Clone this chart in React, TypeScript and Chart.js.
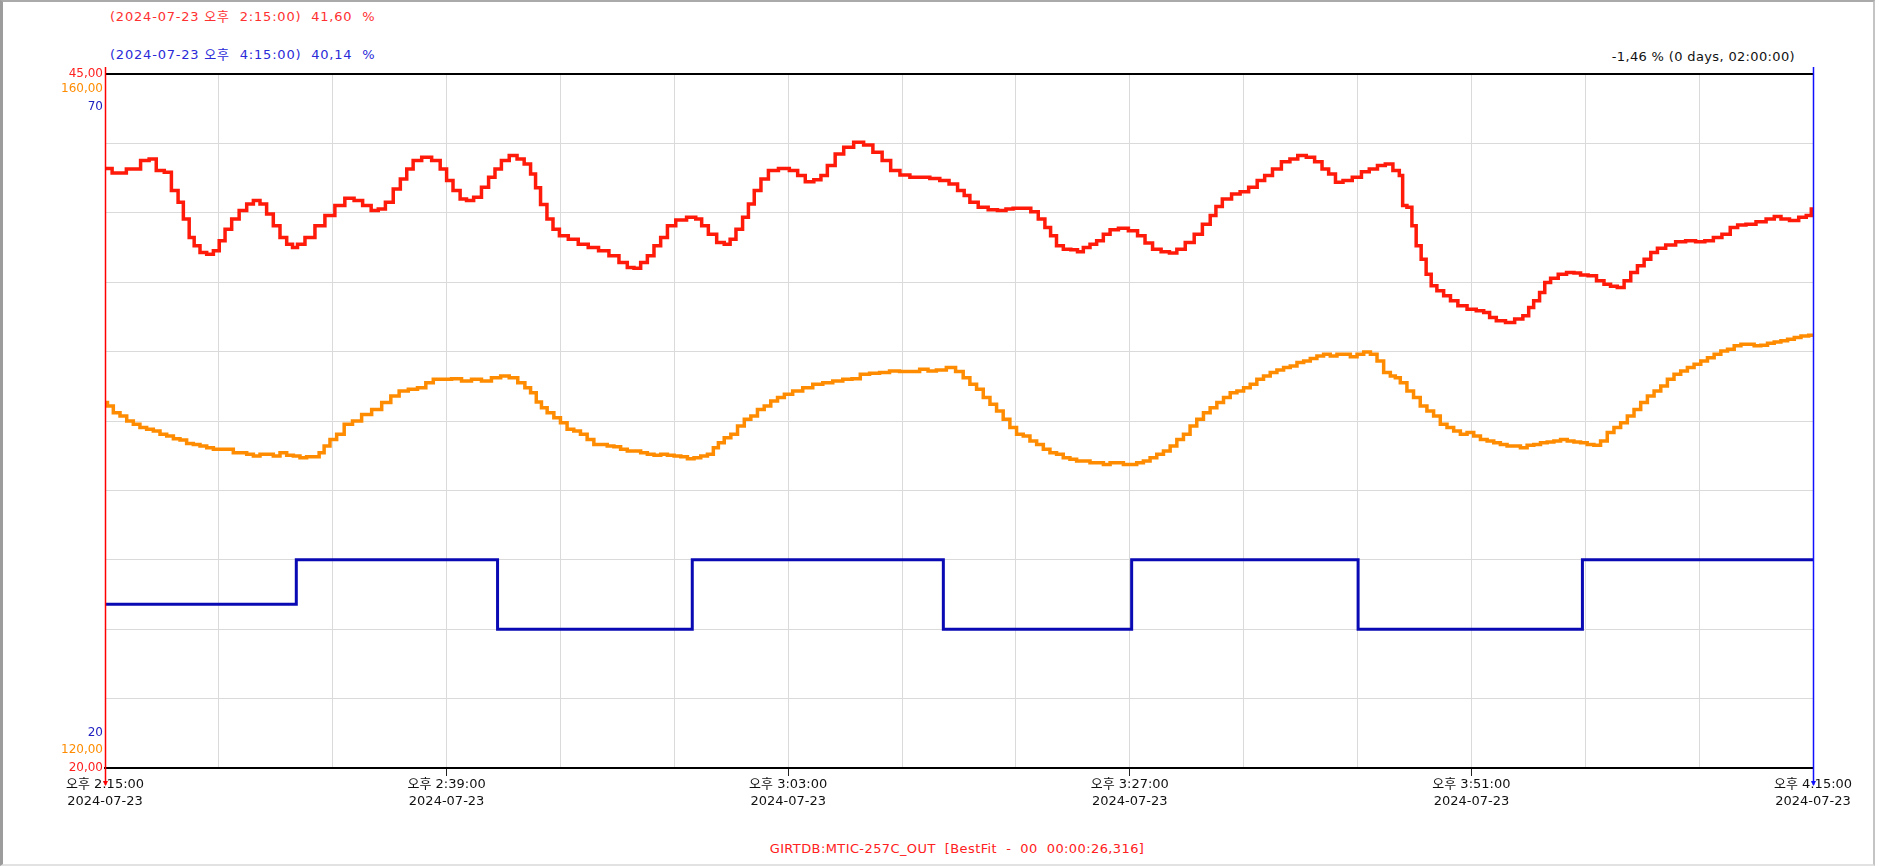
import React, { useEffect, useRef } from 'react';
import { Chart, registerables } from 'chart.js';

Chart.register(...registerables);

const FONT = '"DejaVu Sans", "Noto Sans CJK KR", sans-serif';

// x axis: minutes after 2024-07-23 오후 2:15:00
const xTickMinutes = [0, 24, 48, 72, 96, 120];
const xTickTimes = ['오후 2:15:00', '오후 2:39:00', '오후 3:03:00', '오후 3:27:00', '오후 3:51:00', '오후 4:15:00'];
const xTickDate = '2024-07-23';

const redRange = [20, 45];
const orangeRange = [120, 160];
const blueRange = [20, 70];
const redLabels = ['45,00', '20,00'];
const orangeLabels = ['160,00', '120,00'];
const blueLabels = ['70', '20'];

const headerStart = '(2024-07-23 오후  2:15:00)  41,60  %';
const headerEnd = '(2024-07-23 오후  4:15:00)  40,14  %';
const headerDiff = '-1,46 % (0 days, 02:00:00)';
const footerText = 'GIRTDB:MTIC-257C_OUT  [BestFit  -  00  00:00:26,316]';

const cursorStart = 0;
const cursorEnd = 120;

// [minute, value]
const redPoints: [number, number][] = [
  [0, 41.6], [1, 41.43], [2, 41.58], [3, 41.88], [3.2, 41.94], [4, 41.52], [4.33, 41.46], [5, 40.8], [5.27, 40.38],
  [5.74, 39.78], [6.09, 39.11], [6.44, 38.81], [6.91, 38.57], [7.38, 38.51], [7.85, 38.63], [8.2, 38.99], [8.67, 39.41],
  [9.13, 39.78], [9.72, 40.08], [10.19, 40.32], [10.66, 40.44], [11.12, 40.32], [11.59, 39.96], [12.06, 39.53],
  [12.53, 39.11], [13, 38.87], [13.35, 38.75], [13.7, 38.87], [14.4, 39.11], [15.1, 39.53], [15.8, 39.9], [16.5, 40.26],
  [17.2, 40.52], [17.8, 40.44], [18.4, 40.26], [19, 40.08], [19.4, 40.14], [20, 40.38], [20.5, 40.86], [21, 41.22],
  [21.4, 41.58], [21.9, 41.88], [22.6, 42.0], [23.3, 41.88], [23.8, 41.58], [24.2, 41.16], [24.7, 40.8], [25.2, 40.5],
  [25.6, 40.44], [26.2, 40.56], [26.7, 40.92], [27.2, 41.28], [27.6, 41.58], [28.1, 41.88], [28.7, 42.06], [29.2, 41.94],
  [29.7, 41.76], [30.1, 41.4], [30.4, 40.9], [30.8, 40.3], [31.3, 39.78], [31.65, 39.41], [32.2, 39.17], [32.9, 39.05],
  [33.6, 38.87], [34.3, 38.75], [35.05, 38.63], [35.76, 38.45], [36.46, 38.21], [36.93, 38.03], [37.4, 38.0],
  [37.87, 38.21], [38.34, 38.45], [38.8, 38.81], [39.28, 39.11], [39.75, 39.53], [40.45, 39.74], [41.27, 39.84],
  [41.74, 39.78], [42.1, 39.53], [42.68, 39.23], [43.27, 38.93], [43.74, 38.87], [44.1, 39.05], [44.56, 39.41],
  [45.03, 39.84], [45.38, 40.32], [45.85, 40.8], [46.32, 41.22], [46.9, 41.52], [47.73, 41.6], [48.43, 41.52],
  [48.9, 41.34], [49.5, 41.12], [50.1, 41.19], [50.5, 41.34], [51, 41.7], [51.6, 42.12], [52.2, 42.36], [53, 42.54],
  [53.6, 42.44], [54.3, 42.18], [54.9, 41.88], [55.5, 41.52], [56.2, 41.36], [56.9, 41.28], [57.6, 41.28], [58.3, 41.24],
  [59, 41.16], [59.6, 41.04], [60.2, 40.8], [60.53, 40.62], [61, 40.38], [61.7, 40.2], [62.4, 40.11], [63, 40.08],
  [63.6, 40.14], [64, 40.16], [64.75, 40.16], [65.34, 40.04], [65.8, 39.78], [66.27, 39.47], [66.6, 39.17], [67.1, 38.81],
  [67.56, 38.69], [68.15, 38.67], [68.5, 38.6], [68.97, 38.75], [69.44, 38.87], [69.9, 38.99], [70.38, 39.23],
  [70.85, 39.39], [71.55, 39.44], [72.25, 39.35], [72.84, 39.17], [73.3, 38.91], [73.9, 38.69], [74.5, 38.6],
  [75.07, 38.55], [75.54, 38.69], [76.25, 38.93], [76.8, 39.23], [77.4, 39.59], [77.9, 39.9], [78.2, 40.23], [78.8, 40.5],
  [79.5, 40.68], [80, 40.76], [80.7, 40.92], [81.2, 41.16], [81.75, 41.34], [82.3, 41.58], [83, 41.84], [83.5, 41.94],
  [84.1, 42.06], [84.7, 42.0], [85.27, 41.84], [85.74, 41.58], [86.2, 41.4], [86.7, 41.1], [87.26, 41.16], [88, 41.28],
  [88.55, 41.48], [89.1, 41.58], [89.7, 41.7], [90.2, 41.76], [90.77, 41.52], [91.1, 41.34], [91.24, 40.26], [91.7, 40.2],
  [91.94, 39.53], [92.3, 38.81], [92.64, 38.33], [93, 37.79], [93.35, 37.37], [93.8, 37.19], [94.3, 37.01], [94.76, 36.83],
  [95.34, 36.65], [96.05, 36.53], [96.63, 36.47], [97.1, 36.41], [97.46, 36.23], [98.04, 36.11], [98.75, 36.05],
  [99.33, 36.17], [99.9, 36.29], [100.15, 36.59], [100.6, 36.83], [100.98, 37.13], [101.33, 37.49], [101.8, 37.64],
  [102.4, 37.79], [102.97, 37.85], [103.44, 37.83], [103.9, 37.76], [104.5, 37.73], [105.08, 37.55], [105.55, 37.43],
  [106, 37.35], [106.5, 37.31], [106.96, 37.55], [107.43, 37.85], [107.9, 38.09], [108.37, 38.33], [108.84, 38.57],
  [109.3, 38.72], [110, 38.84], [110.7, 38.96], [111.4, 38.99], [112.1, 38.96], [112.7, 38.99], [113.3, 39.11],
  [113.9, 39.23], [114.47, 39.47], [114.94, 39.56], [115.64, 39.59], [116.35, 39.68], [117.06, 39.78], [117.5, 39.87],
  [118, 39.78], [118.7, 39.72], [119.29, 39.84], [119.76, 39.9], [120, 40.14],
];

const orangePoints: [number, number][] = [
  [0, 141.06], [0.35, 140.87], [0.82, 140.48], [1.29, 140.29], [1.76, 140.0], [2.22, 139.81], [2.69, 139.62],
  [3.16, 139.52], [3.63, 139.42], [4.1, 139.23], [4.57, 139.13], [5.04, 138.98], [5.5, 138.9], [5.97, 138.71],
  [6.44, 138.65], [6.91, 138.56], [7.38, 138.46], [7.85, 138.37], [8.31, 138.37], [8.78, 138.37], [9.25, 138.17],
  [9.72, 138.17], [10.19, 138.08], [10.66, 137.98], [11.12, 138.08], [11.59, 138.08], [12.06, 137.98], [12.53, 138.17],
  [13, 138.02], [13.47, 137.98], [13.93, 137.88], [14.4, 137.94], [14.87, 137.94], [15.22, 138.17], [15.57, 138.56],
  [16.04, 138.94], [16.51, 139.23], [17.1, 139.81], [17.68, 140.0], [18.38, 140.38], [19.09, 140.67], [19.79, 141.06],
  [20.37, 141.44], [20.96, 141.73], [21.66, 141.83], [22.25, 141.92], [22.83, 142.21], [23.3, 142.4], [24, 142.4],
  [24.7, 142.44], [25.4, 142.31], [26.1, 142.4], [26.8, 142.31], [27.5, 142.5], [28.1, 142.6], [28.7, 142.5],
  [29.3, 142.21], [29.7, 141.92], [30.1, 141.63], [30.5, 141.1], [30.83, 140.77], [31.3, 140.48], [31.77, 140.19],
  [32.23, 139.9], [32.7, 139.52], [33.17, 139.42], [33.64, 139.23], [34.11, 138.94], [34.58, 138.65], [35.05, 138.65],
  [35.52, 138.56], [35.99, 138.52], [36.46, 138.37], [36.93, 138.27], [37.4, 138.27], [37.87, 138.17], [38.34, 138.08],
  [38.81, 138.02], [39.28, 138.08], [39.75, 138.02], [40.22, 137.98], [40.69, 137.94], [41.15, 137.83], [41.62, 137.88],
  [42.09, 137.98], [42.56, 138.08], [42.92, 138.46], [43.27, 138.75], [43.74, 139.04], [44.2, 139.23], [44.68, 139.71],
  [45.15, 140.1], [45.6, 140.29], [46.08, 140.67], [46.55, 140.87], [47, 141.15], [47.5, 141.35], [47.96, 141.54],
  [48.67, 141.73], [49.37, 141.92], [50.08, 142.12], [50.78, 142.21], [51.48, 142.31], [52.19, 142.4], [52.77, 142.44],
  [53.36, 142.69], [54.07, 142.75], [54.77, 142.79], [55.47, 142.88], [56.18, 142.85], [56.88, 142.85], [57.59, 142.98],
  [58.06, 142.88], [58.76, 142.94], [59.46, 143.08], [60.06, 142.85], [60.53, 142.5], [61, 142.12], [61.47, 141.83],
  [61.94, 141.35], [62.41, 140.96], [62.87, 140.58], [63.34, 140.1], [63.81, 139.62], [64.28, 139.23], [64.75, 139.13],
  [65.22, 138.85], [65.69, 138.65], [66.16, 138.37], [66.62, 138.17], [67.09, 138.08], [67.56, 137.88], [68.03, 137.79],
  [68.5, 137.69], [68.97, 137.69], [69.44, 137.6], [69.91, 137.6], [70.38, 137.5], [70.85, 137.6], [71.32, 137.6],
  [71.78, 137.5], [72.25, 137.5], [72.72, 137.6], [73.19, 137.69], [73.66, 137.88], [74.13, 138.08], [74.6, 138.27],
  [75.07, 138.56], [75.54, 138.94], [76, 139.23], [76.47, 139.71], [76.94, 140.1], [77.41, 140.48], [77.88, 140.77],
  [78.35, 141.06], [78.82, 141.35], [79.29, 141.63], [79.76, 141.73], [80.23, 141.92], [80.69, 142.12], [81.16, 142.4],
  [81.63, 142.6], [82.1, 142.79], [82.57, 142.94], [83.04, 143.08], [83.51, 143.17], [83.98, 143.37], [84.45, 143.46],
  [84.91, 143.6], [85.38, 143.75], [85.85, 143.85], [86.32, 143.75], [86.79, 143.85], [87.26, 143.85], [87.73, 143.71],
  [88.2, 143.85], [88.67, 143.98], [89.14, 143.85], [89.6, 143.46], [90.07, 142.79], [90.54, 142.6], [90.77, 142.5],
  [91.24, 142.21], [91.7, 141.73], [92.17, 141.35], [92.64, 140.87], [93.11, 140.58], [93.58, 140.29], [94.05, 139.81],
  [94.52, 139.62], [94.99, 139.42], [95.46, 139.23], [95.93, 139.33], [96.4, 139.13], [96.87, 138.94], [97.34, 138.85],
  [97.8, 138.75], [98.27, 138.65], [98.74, 138.56], [99.21, 138.56], [99.68, 138.46], [100.15, 138.6], [100.62, 138.65],
  [101.09, 138.75], [101.56, 138.79], [102.03, 138.85], [102.5, 138.94], [102.97, 138.85], [103.44, 138.79],
  [103.9, 138.75], [104.37, 138.65], [104.84, 138.6], [105.31, 138.85], [105.78, 139.33], [106.25, 139.62],
  [106.72, 139.9], [107.19, 140.29], [107.66, 140.67], [108.13, 141.06], [108.6, 141.44], [109.07, 141.73],
  [109.54, 142.02], [110, 142.4], [110.47, 142.69], [110.94, 142.88], [111.41, 143.08], [111.88, 143.27],
  [112.35, 143.46], [112.82, 143.65], [113.29, 143.85], [113.76, 144.04], [114.23, 144.13], [114.7, 144.33],
  [115.17, 144.42], [115.63, 144.42], [116.1, 144.33], [116.57, 144.37], [117.04, 144.48], [117.51, 144.56],
  [117.98, 144.62], [118.45, 144.71], [118.92, 144.81], [119.39, 144.9], [120, 144.94],
];

// each value holds until the next change time
const bluePoints: [number, number][] = [
  [0, 31.8], [13.44, 35], [27.58, 30], [41.26, 35], [58.9, 30], [72.13, 35], [88.04, 30], [103.8, 35], [120, 35],
];

const toXY = (pts: [number, number][]) => pts.map(([x, y]) => ({ x, y }));

export default function App() {
  const canvasRef = useRef<HTMLCanvasElement>(null);

  useEffect(() => {
    const canvas = canvasRef.current;
    if (!canvas) return;

    const overlay = {
      id: 'overlay',
      afterDatasetsDraw(chart: any) {
        const { ctx, chartArea: a } = chart;
        const xs = chart.scales.x;
        ctx.save();
        ctx.strokeStyle = '#000';
        ctx.lineWidth = 2;
        ctx.beginPath();
        ctx.moveTo(a.left, a.top);
        ctx.lineTo(a.right, a.top);
        ctx.stroke();

        const cursor = (m: number, color: string) => {
          const px = Math.round(xs.getPixelForValue(m)) + 0.5;
          ctx.strokeStyle = color;
          ctx.lineWidth = 1.5;
          ctx.beginPath();
          ctx.moveTo(px, a.top - 7);
          ctx.lineTo(px, a.bottom + 17);
          ctx.stroke();
          ctx.fillStyle = color;
          ctx.beginPath();
          ctx.moveTo(px - 2.5, a.bottom + 13);
          ctx.lineTo(px + 2.5, a.bottom + 13);
          ctx.lineTo(px, a.bottom + 18);
          ctx.closePath();
          ctx.fill();
        };
        cursor(cursorStart, '#ff0000');
        cursor(cursorEnd, '#1010ff');

        ctx.font = `12px ${FONT}`;
        ctx.textAlign = 'right';
        ctx.textBaseline = 'middle';
        const lx = a.left - 2;
        ctx.fillStyle = '#ff8c00';
        ctx.fillText(orangeLabels[0], lx, a.top + 15);
        ctx.fillText(orangeLabels[1], lx, a.bottom - 18);
        ctx.fillStyle = '#2020c0';
        ctx.fillText(blueLabels[0], lx, a.top + 33);
        ctx.fillText(blueLabels[1], lx, a.bottom - 35);
        ctx.restore();
      },
    };

    const chart = new Chart(canvas, {
      type: 'line',
      data: {
        datasets: [
          {
            label: 'red',
            data: toXY(redPoints),
            borderColor: '#ff1a0a',
            borderWidth: 3.5,
            pointRadius: 0,
            stepped: 'middle',
            yAxisID: 'yRed',
          },
          {
            label: 'orange',
            data: toXY(orangePoints),
            borderColor: '#ff8c00',
            borderWidth: 3.5,
            pointRadius: 0,
            stepped: 'middle',
            yAxisID: 'yOrange',
          },
          {
            label: 'blue',
            data: toXY(bluePoints),
            borderColor: '#0a0ab4',
            borderWidth: 3,
            pointRadius: 0,
            stepped: 'before',
            yAxisID: 'yBlue',
          },
        ],
      },
      options: {
        animation: false,
        responsive: true,
        maintainAspectRatio: false,
        events: [],
        layout: { padding: { top: 74, right: 66, left: 0, bottom: 0 } },
        plugins: { legend: { display: false }, tooltip: { enabled: false } },
        scales: {
          x: {
            type: 'linear',
            position: 'bottom',
            min: 0,
            max: 120,
            afterFit: (s: any) => {
              s.height = 98;
            },
            ticks: {
              stepSize: 8,
              autoSkip: false,
              maxRotation: 0,
              padding: 0,
              color: '#111',
              font: { family: FONT, size: 13, lineHeight: 17 / 13 },
              callback: (v: any) => {
                const i = xTickMinutes.indexOf(Number(v));
                return i >= 0 ? [xTickTimes[i], xTickDate] : '';
              },
            },
            grid: {
              color: '#dadada',
              lineWidth: 1,
              tickLength: 8,
              tickColor: (ctx: any) =>
                ctx.tick && xTickMinutes.includes(ctx.tick.value) ? '#222' : 'rgba(0,0,0,0)',
            },
            border: { color: '#000', width: 2 },
          },
          yRed: {
            type: 'linear',
            position: 'left',
            min: redRange[0],
            max: redRange[1],
            afterFit: (s: any) => {
              s.width = 105;
            },
            ticks: {
              stepSize: 2.5,
              padding: 2,
              color: '#ff2020',
              font: { family: FONT, size: 12 },
              callback: (v: any) =>
                Number(v) === redRange[1] ? redLabels[0] : Number(v) === redRange[0] ? redLabels[1] : '',
            },
            grid: { color: '#dadada', lineWidth: 1, drawTicks: false },
            border: { display: false },
          },
          yOrange: {
            type: 'linear',
            display: false,
            min: orangeRange[0],
            max: orangeRange[1],
          },
          yBlue: {
            type: 'linear',
            display: false,
            min: blueRange[0],
            max: blueRange[1],
          },
        },
      } as any,
      plugins: [overlay],
    });

    return () => chart.destroy();
  }, []);

  const textBase: React.CSSProperties = {
    position: 'absolute',
    fontFamily: FONT,
    fontSize: 13,
    lineHeight: '16px',
    whiteSpace: 'pre',
  };

  return (
    <div style={{ position: 'fixed', left: 0, top: 0, width: 1879, height: 866, background: '#fff' }}>
      <div
        style={{
          position: 'absolute',
          left: 0,
          top: 0,
          width: 1875,
          height: 866,
          boxSizing: 'border-box',
          borderLeft: '3px solid #9c9c9c',
          borderTop: '2px solid #aaaaaa',
          borderRight: '2px solid #c4c4c4',
          borderBottom: '2px solid #e2e2e2',
        }}
      />
      <div style={{ ...textBase, left: 110, top: 9, color: '#ff3030', letterSpacing: '0.8px' }}>{headerStart}</div>
      <div style={{ ...textBase, left: 110, top: 47, color: '#2a2ad8', letterSpacing: '0.8px' }}>{headerEnd}</div>
      <div style={{ ...textBase, right: 84, top: 49, color: '#111', letterSpacing: '0.35px' }}>{headerDiff}</div>
      <div
        style={{
          ...textBase,
          left: 957,
          top: 841,
          transform: 'translateX(-50%)',
          color: '#ff2020',
          letterSpacing: '0.4px',
        }}
      >
        {footerText}
      </div>
      <div style={{ position: 'absolute', left: 0, top: 0, width: 1879, height: 866 }}>
        <canvas ref={canvasRef} />
      </div>
    </div>
  );
}
